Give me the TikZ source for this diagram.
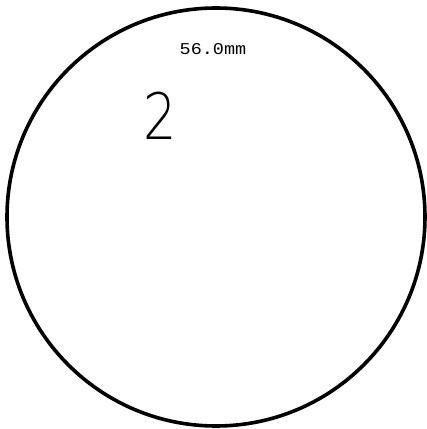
\documentclass[tikz,border=0pt]{standalone}
\usepackage{fontspec}
\newfontfamily\monofont{Liberation Mono}
\newfontfamily\thinfont{DejaVu Sans ExtraLight}
\begin{document}
\begin{tikzpicture}[x=1pt,y=1pt,thick]
%
% Kreis mit Durchmesserangabe und Nummer
%
\useasboundingbox (0,0) rectangle (427,429);
% Kreis
\node[draw,circle,line width=3.6pt,minimum size=418pt,inner sep=0pt] (rund) at (216,212) {};
% Durchmesser
\node[font=\monofont\fontsize{16.5}{16.5}\selectfont,xscale=1.12,inner sep=0pt] (mass) at (213,380) {56.0mm};
% Nummer
\node[font=\thinfont\fontsize{64}{64}\selectfont,xscale=0.82,inner sep=0pt] (nummer) at (160,313) {2};
\end{tikzpicture}
\end{document}
